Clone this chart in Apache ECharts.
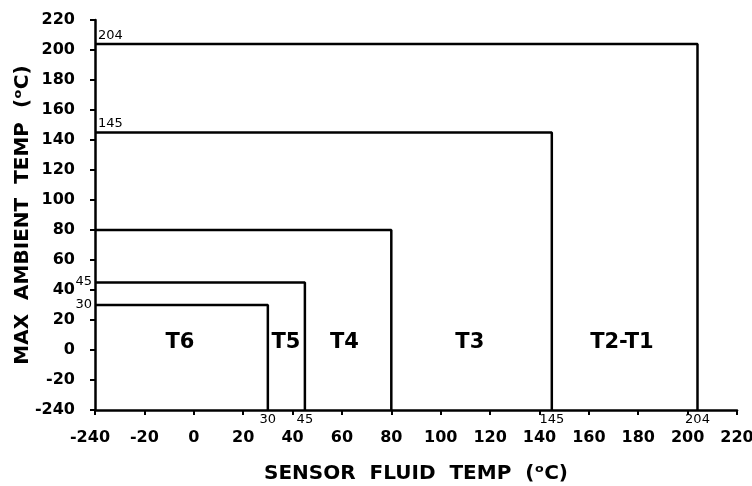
<!DOCTYPE html>
<html><head><meta charset="utf-8">
<script src="https://cdn.jsdelivr.net/npm/echarts@6/dist/echarts.min.js"></script>
<style>html,body{margin:0;padding:0;background:#fff}#c{width:752px;height:486px}</style>
</head><body><div id="c"></div>
<script>
// Data
var axisMin = -40, axisMax = 220, axisStep = 20;
var brokenLabel = '-240';           // label shown at the axis start
var thresholds = [30, 45, 80, 145, 204];
var leftNotes = [30, 45, 145, 204];
var bottomNotes = [30, 45, 145, 204];
var zoneNames = ['T6', 'T5', 'T4', 'T3', 'T2-T1'];
var zoneX = [-5.6, 37.3, 61, 111.8, 173.4];
var zoneY = [5, 5, 5, 5, 5];
var xTitle = 'SENSOR  FLUID  TEMP  (\u1D52C)';
var yTitle = 'MAX  AMBIENT  TEMP  (\u1D52C)';

var FONT = 'DejaVu Sans';
function fmtX(v){ return v === axisMin ? '{s|' + brokenLabel + '}' : String(v); }
function fmtY(v){ return v === axisMin ? brokenLabel : String(v); }

var series = [];
thresholds.forEach(function(t){
  series.push({type:'line', symbol:'none', silent:true,
    lineStyle:{color:'#000', width:2.5},
    data:[[axisMin,t],[t,t],[t,axisMin]]});
});
series.push({type:'scatter', symbolSize:0, silent:true, itemStyle:{opacity:1},
  data: leftNotes.map(function(t){
    var big = t >= 100;
    return {value:[axisMin,t], label: big ?
      {position:[3,-2], align:'left', verticalAlign:'bottom'} :
      {position:'left', distance:3, offset:[0, t===45 ? -1 : 0]}};
  }),
  label:{show:true, fontFamily:FONT, fontSize:13, color:'#000', opacity:1,
    formatter:function(p){ return String(p.value[1]); }}
});
series.push({type:'scatter', symbolSize:0, silent:true, itemStyle:{opacity:1},
  data: bottomNotes.map(function(t){ return [t, axisMin]; }),
  label:{show:true, fontFamily:FONT, fontSize:13, color:'#000', opacity:1, position:'bottom', distance:3,
    formatter:function(p){ return String(p.value[0]); }}
});
series.push({type:'scatter', symbolSize:0, silent:true, itemStyle:{opacity:1},
  data: zoneNames.map(function(n,i){ return [zoneX[i], zoneY[i], n]; }),
  label:{show:true, position:'inside', fontFamily:FONT, fontWeight:'bold', fontSize:21, color:'#000',
    opacity:1, textBorderWidth:0,
    formatter:function(p){ return p.value[2]; }}
});

var axisCommon = {
  type:'value', min:axisMin, max:axisMax, interval:axisStep,
  splitLine:{show:false},
  axisLine:{show:true, onZero:false, lineStyle:{color:'#000', width:2.5}},
  axisTick:{show:true, inside:false, length:5, lineStyle:{color:'#000', width:2}},
  axisLabel:{fontFamily:FONT, fontWeight:'bold', fontSize:16, color:'#000', margin:20},
  nameLocation:'middle',
  nameMoveOverlap:false,
  nameTextStyle:{fontFamily:FONT, fontWeight:'bold', fontSize:20, color:'#000'}
};
var xAxis = JSON.parse(JSON.stringify(axisCommon));
xAxis.axisLabel.formatter = fmtX;
xAxis.axisLabel.rich = {s:{fontFamily:FONT, fontWeight:'bold', fontSize:16, color:'#000', padding:[0,10,0,0]}};
xAxis.name = xTitle; xAxis.nameGap = 54;
var yAxis = JSON.parse(JSON.stringify(axisCommon)); yAxis.axisLabel.formatter = fmtY;
yAxis.name = yTitle; yAxis.nameGap = 62; yAxis.axisLabel.margin = 20;

var chart = echarts.init(document.getElementById('c'));
chart.setOption({
  animation:false,
  grid:{left:95, right:15, top:20, bottom:76, containLabel:false, outerBoundsMode:'none'},
  xAxis:xAxis, yAxis:yAxis, series:series
});
</script></body></html>
